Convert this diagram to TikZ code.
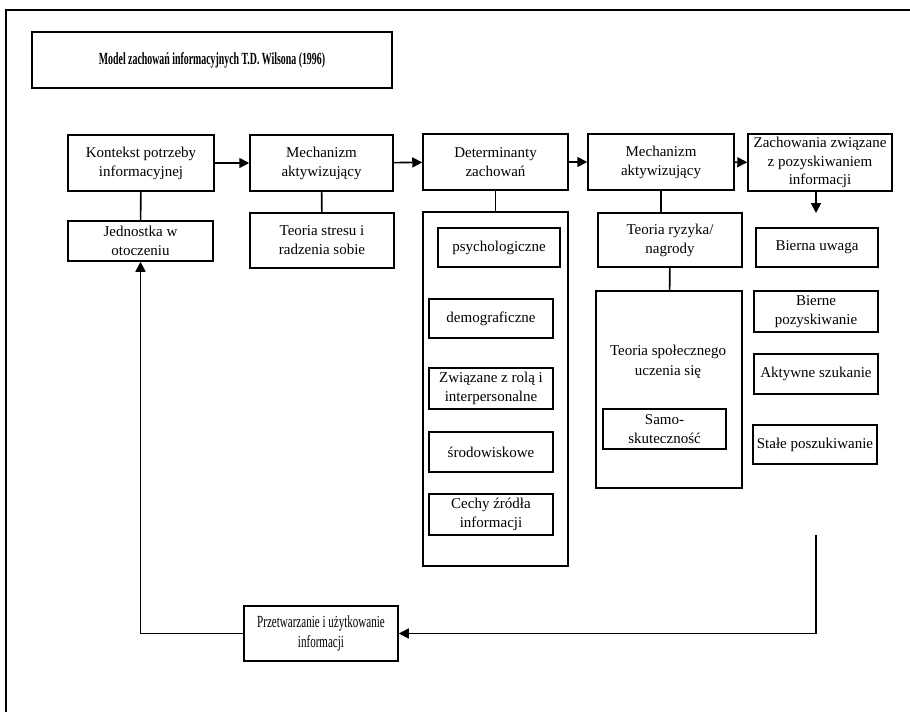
\documentclass[tikz,border=0pt]{standalone}
\usepackage{fontspec}
\setmainfont{Liberation Serif}
\usepackage{graphicx}
\usetikzlibrary{arrows.meta}

\tikzset{
  box/.style={draw, line width=1.5pt, align=center, inner sep=1pt,
    font=\fontsize{15}{19}\selectfont},
  link/.style={line width=1.6pt},
  arr/.style={line width=1.6pt, -{Triangle[length=10pt,width=10pt]}}
}

\begin{document}
\begin{tikzpicture}[x=1pt,y=-1pt]
  \useasboundingbox (0,0) rectangle (910,712);

  % frame
  \draw[line width=1.6pt] (6,712) -- (6,10) -- (910,10);

  % title
  \node[box, minimum width=360pt, minimum height=56pt, font=\fontsize{17}{20}\selectfont] (title) at (212,60)
    {\bfseries\scalebox{0.58}[1]{Model zachowań informacyjnych T.D. Wilsona (1996)}};

  % top row
  \node[box, minimum width=146pt, minimum height=56pt] (kontekst) at (141,163)
    {Kontekst potrzeby\\informacyjnej};
  \node[box, minimum width=143pt, minimum height=56pt] (mech1) at (321.5,163)
    {Mechanizm\\aktywizujący};
  \node[box, minimum width=145pt, minimum height=56pt] (determ) at (495.5,162)
    {Determinanty\\zachowań};
  \node[box, minimum width=146pt, minimum height=56pt] (mech2) at (661,162)
    {Mechanizm\\aktywizujący};
  \node[box, minimum width=144pt, minimum height=57pt, font=\fontsize{15}{18.5}\selectfont] (zach) at (820,162.5)
    {Zachowania związane\\z pozyskiwaniem\\informacji};

  % second row
  \node[box, minimum width=145pt, minimum height=40pt] (jednostka) at (140.5,241)
    {Jednostka w\\otoczeniu};
  \node[box, minimum width=144pt, minimum height=55pt] (stres) at (322,240.5)
    {Teoria stresu i\\radzenia sobie};
  \node[box, minimum width=144pt, minimum height=54pt] (ryzyko) at (670,240)
    {Teoria ryzyka/\\nagrody};

  % determinants
  \node[box, minimum width=145pt, minimum height=354pt] (detbox) at (495.5,389) {};
  \node[box, minimum width=122pt, minimum height=39pt] (psych) at (499,247.5) {psychologiczne};
  \node[box, minimum width=124pt, minimum height=39pt] (demo) at (491,318.5) {demograficzne};
  \node[box, minimum width=124pt, minimum height=41pt] (rola) at (491,388.5)
    {Związane z rolą i\\interpersonalne};
  \node[box, minimum width=124pt, minimum height=40pt] (srod) at (491,452) {środowiskowe};
  \node[box, minimum width=124pt, minimum height=41pt] (cechy) at (491,514.5)
    {Cechy źródła\\informacji};

  % social learning
  \node[box, minimum width=146pt, minimum height=197pt] (spol) at (669,389.5) {};
  \node[align=center, font=\fontsize{15}{20}\selectfont] (spoltext) at (668,362)
    {Teoria społecznego\\uczenia się};
  \node[box, minimum width=123pt, minimum height=40pt] (samo) at (664.5,429)
    {Samo-\\skuteczność};

  % behaviours
  \node[box, minimum width=122pt, minimum height=39pt] (bierna) at (817,247.5) {Bierna uwaga};
  \node[box, minimum width=124pt, minimum height=41pt] (biernepoz) at (816,311.5)
    {Bierne\\pozyskiwanie};
  \node[box, minimum width=124pt, minimum height=40pt] (aktywne) at (816,374) {Aktywne szukanie};
  \node[box, minimum width=124pt, minimum height=39pt] (stale) at (815,444.5) {Stałe poszukiwanie};

  % processing
  \node[box, minimum width=154pt, minimum height=55pt, font=\fontsize{17}{20}\selectfont] (przetw) at (321,633.5)
    {\scalebox{0.65}[1]{Przetwarzanie i użytkowanie}\\\scalebox{0.65}[1]{informacji}};

  \coordinate (zachend) at (816,213);
  \coordinate (loopstart) at (816,535);

  % connectors
  \draw[arr] (kontekst) -- (mech1);
  \draw[arr] (mech1) -- (determ);
  \draw[arr] (determ) -- (mech2);
  \draw[arr] (mech2) -- (zach);
  \draw[link] (kontekst) -- (jednostka);
  \draw[link] (mech1) -- (stres);
  \draw[link] (determ) -- (detbox);
  \draw[link] (mech2.south) -- (mech2.south |- ryzyko.north);
  \draw[link] (ryzyko) -- (spol);
  \draw[arr] (zach.south -| zachend) -- (zachend);
  \draw[arr] (loopstart) |- (przetw.east);
  \draw[arr] (przetw.west) -| (jednostka.south);
\end{tikzpicture}
\end{document}
